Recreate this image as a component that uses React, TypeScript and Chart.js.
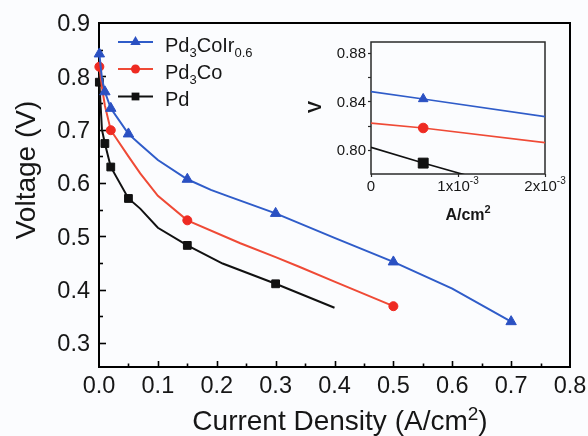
import React, { useEffect, useRef } from 'react';
import { Chart, registerables } from 'chart.js';
Chart.register(...registerables);

// ---------- data ----------
const blueX = [0, 0.0006, 0.005, 0.01, 0.02, 0.05, 0.07, 0.1, 0.15, 0.19, 0.22, 0.3, 0.4, 0.5, 0.6, 0.7];
const blueY = [0.848, 0.842, 0.796, 0.771, 0.74, 0.692, 0.672, 0.643, 0.607, 0.587, 0.575, 0.543, 0.497, 0.452, 0.402, 0.34];
const blueMarkX = [0.0006, 0.01, 0.02, 0.05, 0.15, 0.3, 0.5, 0.7];

const redX = [0, 0.0006, 0.005, 0.01, 0.02, 0.05, 0.07, 0.1, 0.15, 0.24, 0.3, 0.34, 0.4, 0.5];
const redY = [0.822, 0.818, 0.78, 0.745, 0.699, 0.65, 0.618, 0.576, 0.53, 0.487, 0.461, 0.443, 0.415, 0.369];
const redMarkX = [0.0006, 0.02, 0.15, 0.5];

const blackX = [0, 0.0006, 0.005, 0.01, 0.02, 0.05, 0.07, 0.1, 0.15, 0.21, 0.3, 0.4];
const blackY = [0.802, 0.789, 0.7, 0.674, 0.63, 0.571, 0.552, 0.516, 0.483, 0.449, 0.411, 0.366];
const blackMarkX = [0.0006, 0.01, 0.02, 0.05, 0.15, 0.3];

const xTickLabels = ['0.0', '0.1', '0.2', '0.3', '0.4', '0.5', '0.6', '0.7', '0.8'];
const yTickLabels = ['0.3', '0.4', '0.5', '0.6', '0.7', '0.8', '0.9'];
const insetXTickValues = [0, 0.001, 0.002];
const insetXTickMain = ['0', '1x10', '2x10'];
const insetXTickSup = ['', '-3', '-3'];
const insetYTickLabels = ['0.80', '0.84', '0.88'];
const insetYMinor = [0.82, 0.86];

type Part = { t: string; k?: 'sub' | 'sup' };
const legendLabels: Part[][] = [
  [{ t: 'Pd' }, { t: '3', k: 'sub' }, { t: 'CoIr' }, { t: '0.6', k: 'sub' }],
  [{ t: 'Pd' }, { t: '3', k: 'sub' }, { t: 'Co' }],
  [{ t: 'Pd' }],
];
const xTitle: Part[] = [{ t: 'Current Density (A/cm' }, { t: '2', k: 'sup' }, { t: ')' }];
const yTitle = 'Voltage (V)';
const insetXTitle: Part[] = [{ t: 'A/cm' }, { t: '2', k: 'sup' }];
const insetYTitle = 'V';

// ---------- styles ----------
const FONT = '"Liberation Sans", Arial, Helvetica, sans-serif';
const BG = '#fbfcfe';
const TXT = '#161616';
const BLUE = '#2f5cc9';
const RED = '#ef4a36';
const RED_PT = '#ee2a22';
const BLACK = '#111111';
const colors = [BLUE, RED, BLACK];
const ptColors = ['#2a50c2', RED_PT, BLACK];
const styles = ['triangle', 'circle', 'rect'];

function drawRich(
  ctx: CanvasRenderingContext2D,
  parts: Part[],
  x: number,
  y: number,
  size: number,
  small: number,
  subDy: number,
  supDy: number,
  align: 'left' | 'center' | 'right',
  bold = false
) {
  const f = (s: number) => `${bold ? 'bold ' : ''}${s}px ${FONT}`;
  let w = 0;
  for (const p of parts) {
    ctx.font = f(p.k ? small : size);
    w += ctx.measureText(p.t).width;
  }
  let cx = align === 'center' ? x - w / 2 : align === 'right' ? x - w : x;
  ctx.textAlign = 'left';
  ctx.textBaseline = 'alphabetic';
  for (const p of parts) {
    ctx.font = f(p.k ? small : size);
    const dy = p.k === 'sub' ? subDy : p.k === 'sup' ? -supDy : 0;
    ctx.fillText(p.t, cx, y + dy);
    cx += ctx.measureText(p.t).width;
  }
}

function drawMarker(ctx: CanvasRenderingContext2D, style: string, x: number, y: number, r: number, color: string) {
  ctx.fillStyle = color;
  ctx.beginPath();
  if (style === 'triangle') {
    for (let i = 0; i < 3; i++) {
      const a = (i * 2 * Math.PI) / 3;
      const px = x + Math.sin(a) * r;
      const py = y - Math.cos(a) * r;
      if (i === 0) ctx.moveTo(px, py);
      else ctx.lineTo(px, py);
    }
    ctx.closePath();
  } else if (style === 'circle') {
    ctx.arc(x, y, r, 0, Math.PI * 2);
  } else {
    const s = Math.SQRT1_2 * r;
    ctx.rect(x - s, y - s, 2 * s, 2 * s);
  }
  ctx.fill();
}

function makeDataset(xs: number[], ys: number[], marks: number[], i: number, radius: number, lw: number, clip: boolean) {
  const data = xs.map((x, j) => ({ x, y: ys[j] }));
  return {
    data,
    borderColor: colors[i],
    backgroundColor: ptColors[i],
    borderWidth: lw,
    pointStyle: styles[i],
    pointBackgroundColor: ptColors[i],
    pointBorderColor: ptColors[i],
    pointBorderWidth: 1,
    pointRadius: (c: any) => (c.raw && marks.includes(c.raw.x) ? radius : 0),
    pointHoverRadius: 0,
    tension: 0,
    fill: false,
    clip: clip ? undefined : false,
  } as any;
}

const mainFrame = {
  id: 'mainFrame',
  beforeDatasetsDraw(chart: any) {
    const { ctx, chartArea: a, scales } = chart;
    const xs = scales.x;
    const ys = scales.y;
    ctx.save();
    ctx.strokeStyle = '#000';
    ctx.lineWidth = 2;
    ctx.strokeRect(a.left, a.top, a.right - a.left, a.bottom - a.top);
    ctx.lineWidth = 1.6;
    // x ticks
    for (let k = 0; k <= 16; k++) {
      const v = k * 0.05;
      const px = Math.round(xs.getPixelForValue(v)) + 0.5;
      const len = k % 2 === 0 ? 6 : 3.5;
      if (k === 0 || k === 16) continue;
      ctx.beginPath();
      ctx.moveTo(px, a.bottom);
      ctx.lineTo(px, a.bottom - len);
      ctx.stroke();
    }
    // y ticks
    for (let k = 0; k <= 12; k++) {
      const v = 0.3 + k * 0.05;
      const py = Math.round(ys.getPixelForValue(v)) + 0.5;
      const len = k % 2 === 0 ? 7 : 4;
      if (k === 12) continue;
      ctx.beginPath();
      ctx.moveTo(a.left, py);
      ctx.lineTo(a.left + len, py);
      ctx.stroke();
    }
    // tick labels
    ctx.fillStyle = TXT;
    ctx.font = `23.5px ${FONT}`;
    ctx.textBaseline = 'alphabetic';
    ctx.textAlign = 'center';
    for (const l of xTickLabels) {
      ctx.fillText(l, xs.getPixelForValue(parseFloat(l)), 393);
    }
    ctx.textAlign = 'right';
    for (const l of yTickLabels) {
      ctx.fillText(l, a.left - 9, ys.getPixelForValue(parseFloat(l)) + 8.4);
    }
    // titles
    drawRich(ctx, xTitle, 340, 430, 28, 19, 0, 10, 'center');
    ctx.save();
    ctx.translate(35, 170);
    ctx.rotate(-Math.PI / 2);
    ctx.font = `28px ${FONT}`;
    ctx.textAlign = 'center';
    ctx.fillText(yTitle, 0, 0);
    ctx.restore();
    ctx.restore();
  },
  afterDatasetsDraw(chart: any) {
    const { ctx } = chart;
    ctx.save();
    const rows = [42, 69, 96.5];
    const radii = [6, 4.5, 5.5];
    rows.forEach((ly, i) => {
      ctx.strokeStyle = colors[i];
      ctx.lineWidth = 2;
      ctx.beginPath();
      ctx.moveTo(118, ly);
      ctx.lineTo(153, ly);
      ctx.stroke();
      drawMarker(ctx, styles[i], 135.5, ly, radii[i], ptColors[i]);
      ctx.fillStyle = TXT;
      drawRich(ctx, legendLabels[i], 165, ly + 9.5, 20, 13, 5, 0, 'left');
    });
    ctx.restore();
  },
};

const insetFrame = {
  id: 'insetFrame',
  beforeDatasetsDraw(chart: any) {
    const { ctx, chartArea: a, scales } = chart;
    const xs = scales.x;
    const ys = scales.y;
    ctx.save();
    ctx.strokeStyle = '#2a2a2a';
    ctx.lineWidth = 1.5;
    ctx.strokeRect(a.left, a.top, a.right - a.left, a.bottom - a.top);
    ctx.lineWidth = 1.2;
    const yVals = [...insetYTickLabels.map((l) => parseFloat(l)), ...insetYMinor];
    for (const v of yVals) {
      const py = Math.round(ys.getPixelForValue(v)) + 0.5;
      ctx.beginPath();
      ctx.moveTo(a.left, py);
      ctx.lineTo(a.left - 3, py);
      ctx.stroke();
    }
    for (const v of insetXTickValues) {
      const px = Math.round(xs.getPixelForValue(v)) + 0.5;
      ctx.beginPath();
      ctx.moveTo(px, a.bottom);
      ctx.lineTo(px, a.bottom + 3);
      ctx.stroke();
    }
    ctx.fillStyle = TXT;
    ctx.font = `15px ${FONT}`;
    ctx.textAlign = 'right';
    ctx.textBaseline = 'alphabetic';
    for (const l of insetYTickLabels) {
      ctx.fillText(l, a.left - 5, ys.getPixelForValue(parseFloat(l)) + 5.4);
    }
    insetXTickValues.forEach((v, i) => {
      const parts: Part[] = [{ t: insetXTickMain[i] }];
      if (insetXTickSup[i]) parts.push({ t: insetXTickSup[i], k: 'sup' });
      drawRich(ctx, parts, xs.getPixelForValue(v), a.bottom + 17, 15, 10, 0, 7, 'center');
    });
    drawRich(ctx, insetXTitle, 172, 190, 16, 11, 0, 7, 'center', true);
    ctx.save();
    ctx.translate(25, 77);
    ctx.rotate(-Math.PI / 2);
    ctx.font = `bold 18px ${FONT}`;
    ctx.textAlign = 'center';
    ctx.fillText(insetYTitle, 0, 0);
    ctx.restore();
    ctx.restore();
  },
};

export default function App() {
  const mainRef = useRef<HTMLCanvasElement>(null);
  const insetRef = useRef<HTMLCanvasElement>(null);
  useEffect(() => {
    const main = new Chart(mainRef.current as HTMLCanvasElement, {
      type: 'line',
      data: {
        datasets: [
          makeDataset(blueX, blueY, blueMarkX, 0, 6, 2, false),
          makeDataset(redX, redY, redMarkX, 1, 4.5, 2, false),
          makeDataset(blackX, blackY, blackMarkX, 2, 5.5, 2, false),
        ],
      },
      options: {
        responsive: false,
        animation: false,
        devicePixelRatio: 1,
        layout: { padding: { left: 99, top: 23, right: 18, bottom: 69 } },
        scales: {
          x: { type: 'linear', min: 0, max: 0.8, display: false },
          y: { type: 'linear', min: 0.255, max: 0.9, display: false },
        },
        plugins: { legend: { display: false }, tooltip: { enabled: false } },
        events: [],
      } as any,
      plugins: [mainFrame],
    });
    const inset = new Chart(insetRef.current as HTMLCanvasElement, {
      type: 'line',
      data: {
        datasets: [
          makeDataset(blueX, blueY, blueMarkX, 0, 5.5, 1.6, true),
          makeDataset(redX, redY, redMarkX, 1, 4.8, 1.6, true),
          makeDataset(blackX, blackY, blackMarkX, 2, 7, 1.6, true),
        ],
      },
      options: {
        responsive: false,
        animation: false,
        devicePixelRatio: 1,
        layout: { padding: { left: 75, top: 12, right: 31, bottom: 56 } },
        scales: {
          x: { type: 'linear', min: 0, max: 0.002, display: false },
          y: { type: 'linear', min: 0.78, max: 0.889, display: false },
        },
        plugins: { legend: { display: false }, tooltip: { enabled: false } },
        events: [],
      } as any,
      plugins: [insetFrame],
    });
    return () => {
      main.destroy();
      inset.destroy();
    };
  }, []);
  return (
    <div style={{ position: 'fixed', left: 0, top: 0, width: 588, height: 436, background: BG }}>
      <canvas ref={mainRef} width={588} height={436} style={{ position: 'absolute', left: 0, top: 0, width: 588, height: 436 }} />
      <canvas ref={insetRef} width={280} height={200} style={{ position: 'absolute', left: 296, top: 30, width: 280, height: 200 }} />
    </div>
  );
}
